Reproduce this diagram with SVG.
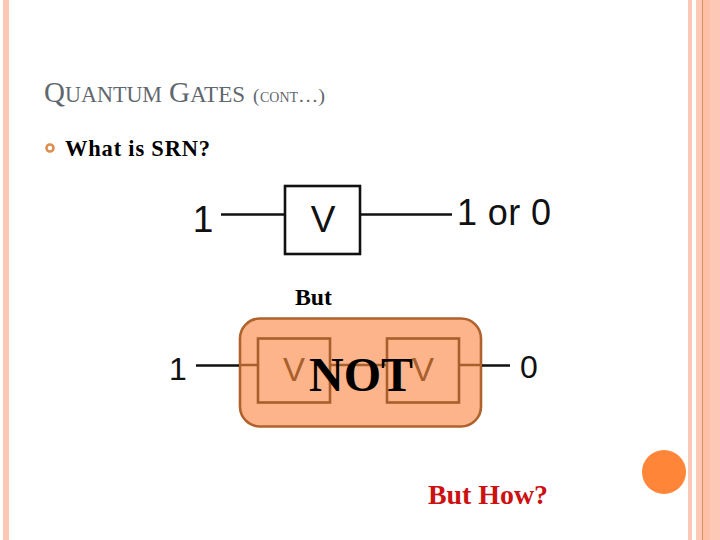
<svg xmlns="http://www.w3.org/2000/svg" width="720" height="540" viewBox="0 0 720 540">
<style>
.serif{font-family:"Liberation Serif","Times New Roman",serif}
.sans{font-family:"Liberation Sans",Arial,sans-serif;fill:#111}
.k{fill:none;stroke:#111;stroke-width:2.4}
.o{fill:none;stroke:#a85f2c;stroke-width:2.4}
.b{font-weight:bold}
.t{fill:#5f676f}
</style>
<rect width="720" height="540" fill="#fff"/>
<g id="border">
<rect x="3" y="0" width="6" height="540" fill="#fbc8b6"/>
<rect x="688" y="0" width="4" height="540" fill="#fbc8b6"/>
<rect x="696" y="0" width="24" height="540" fill="#fdc9b6"/>
<rect x="703" y="0" width="7" height="540" fill="#fdbfa6"/>
<rect x="702" y="0" width="1" height="540" fill="#d98f5f"/>
</g>
<g id="title">
<text class="serif t" x="44" y="102" font-size="29">Q</text>
<text class="serif t" x="65" y="102" font-size="22.500" textLength="97" lengthAdjust="spacingAndGlyphs">UANTUM</text>
<text class="serif t" x="169" y="102" font-size="29">G</text>
<text class="serif t" x="190" y="102" font-size="22.500" textLength="55" lengthAdjust="spacingAndGlyphs">ATES</text>
<text class="serif t" x="253" y="102" font-size="19">(</text>
<text class="serif t" x="260" y="102" font-size="14.500" textLength="38" lengthAdjust="spacingAndGlyphs">CONT</text>
<text class="serif t" x="298" y="102" font-size="19" textLength="27" lengthAdjust="spacingAndGlyphs">…)</text>
</g>
<g id="bullet">
<circle cx="50" cy="148" r="3.5" fill="none" stroke="#dd8e50" stroke-width="2.600"/>
<text class="serif b" x="65" y="156" font-size="22.500" fill="#000" textLength="145">What is SRN?</text>
</g>
<rect id="not-panel" x="240" y="318.500" width="241" height="108" rx="20" fill="#feb48b" stroke="#b0622c" stroke-width="2.600"/>
<g id="connectors">
<path class="k" d="M221 214.500H285M361 214.500H452M196 365.500H239M482 365.500H510"/>
<path class="o" d="M241 365H258M330 365H387M459 365H480"/>
</g>
<g id="srn-gate">
<rect x="285" y="186" width="75" height="68" fill="#fff" stroke="#111" stroke-width="2.600"/>
<text class="sans" x="323" y="232" font-size="37" text-anchor="middle">V</text>
<text class="sans" x="203" y="232" font-size="37" text-anchor="middle">1</text>
<text class="sans" x="457" y="225" font-size="36" textLength="94" lengthAdjust="spacing">1 or 0</text>
</g>
<text class="serif b" x="295" y="305" font-size="23.500" fill="#000" textLength="37" lengthAdjust="spacingAndGlyphs">But</text>
<g id="not-gate">
<text class="sans" x="178" y="380" font-size="32" text-anchor="middle">1</text>
<text class="sans" x="529" y="378" font-size="32" text-anchor="middle">0</text>
<rect x="258" y="338.500" width="72" height="64" fill="none" stroke="#a85f2c" stroke-width="2.600"/>
<rect x="387" y="338.500" width="72" height="64" fill="none" stroke="#a85f2c" stroke-width="2.600"/>
<text class="sans" x="294" y="381" font-size="33" text-anchor="middle" style="fill:#a85f2c">V</text>
<text class="sans" x="423" y="381" font-size="33" text-anchor="middle" style="fill:#a85f2c">V</text>
<text class="serif b" x="361" y="391" font-size="48" text-anchor="middle" fill="#000">NOT</text>
</g>
<text class="serif b" x="428" y="504" font-size="27.500" fill="#cc1111" textLength="120" lengthAdjust="spacingAndGlyphs">But How?</text>
<circle id="dot" cx="664" cy="472" r="22" fill="#ff8539"/>
</svg>
